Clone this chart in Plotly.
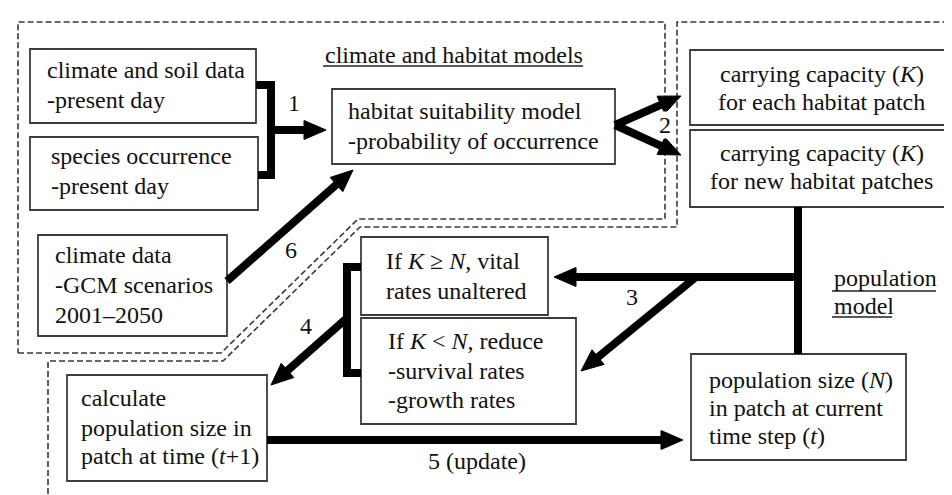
import numpy as np
import plotly.graph_objects as go

W, H = 952, 495
FONT = "Liberation Serif"
FS = 24

# ---------------- content ----------------
box_lines = [
    ["climate and soil data", "-present day"],
    ["species occurrence", "-present day"],
    ["habitat suitability model", "-probability of occurrence"],
    ["carrying capacity (<i>K</i>)", "for each habitat patch"],
    ["carrying capacity (<i>K</i>)", "for new habitat patches"],
    ["climate data", "-GCM scenarios", "2001–2050"],
    ["If <i>K</i> ≥ <i>N</i>, vital", "rates unaltered"],
    ["If <i>K</i> &lt; <i>N</i>, reduce", "-survival rates", "-growth rates"],
    ["calculate", "population size in", "patch at time (<i>t</i>+1)"],
    ["population size (<i>N</i>)", "in patch at current", "time step (<i>t</i>)"],
]
section_titles = ["climate and habitat models", "population", "model"]
arrow_labels = ["1", "2", "3", "4", "5 (update)", "6"]

# ---------------- layout geometry (pixel space) ----------------
box_x0 = [22, 22, 324, 682, 682, 30, 353, 353, 59, 683]
box_x1 = [248, 250, 607, 945, 945, 219, 540, 568, 259, 898]
box_y0 = [41, 129, 81, 42, 122, 227, 229, 310, 367, 346]
box_y1 = [115, 202, 156, 117, 199, 328, 307, 416, 473, 452]
text_x = [37, 41, 338, None, None, 45, 376, 378, 71, 699]
line_y = [[62, 92], [148, 178], [103, 133], [66, 94], [145, 173],
          [247, 277, 307], [253, 283], [333, 363, 392],
          [390, 420, 448], [372, 400, 428]]

title_pos = [(315, 47, 315, 575, 58), (824, 270, 824, 928, 283), (824, 298, 824, 884, 309)]
label_pos = [(286, 95), (657, 117), (624, 289), (298, 318), (469, 453), (283, 242)]

# dashed regions
region1 = [(10, 345), (213, 345), (350, 211), (657, 211), (657, 14), (10, 14), (10, 345)]
region2 = [(40, 495), (40, 353), (215, 353), (352, 219), (669, 219), (669, 14), (952, 14)]

# connectors (polylines, no heads)
connectors = [
    [(248, 77), (263, 77), (263, 167), (250, 167)],      # bracket 1
    [(790, 199), (790, 346)],                             # vertical K -> N
    [(353, 259), (339, 259), (339, 365), (353, 365)],     # bracket 4
]
# arrows: tail -> tip
arrows = [
    ((263, 122), (318, 122)),     # 1
    ((607, 117), (673, 88)),      # 2 upper
    ((607, 117), (673, 147)),     # 2 lower
    ((794, 269), (546, 269)),     # 3 to K>=N
    ((688, 269), (573, 363)),     # 3 to K<N
    ((339, 310), (263, 377)),     # 4
    ((259, 432), (675, 432)),     # 5
    ((219, 273), (345, 162)),     # 6
]

LW = 8
HEAD_L, HEAD_W = 22, 9.5

shapes = []


def path_of(pts, close=False):
    s = "M " + " L ".join(f"{x},{y}" for x, y in pts)
    return s + (" Z" if close else "")


# dashed boundaries
shapes.append(dict(type="path", path=path_of(region1), line=dict(color="#3a3a3a", width=1.6, dash="6px,3px")))
shapes.append(dict(type="path", path=path_of(region2), line=dict(color="#3a3a3a", width=1.6, dash="6px,3px")))
shapes.append(dict(type="line", x0=40, x1=952, y0=493, y1=493, line=dict(color="#c8c8c8", width=1, dash="6px,3px")))

# boxes
for i in range(len(box_lines)):
    shapes.append(dict(type="rect", x0=box_x0[i], x1=box_x1[i], y0=box_y0[i], y1=box_y1[i],
                       line=dict(color="#3c3c3c", width=1.8), fillcolor="white"))

# connectors
for pts in connectors:
    shapes.append(dict(type="path", path=path_of(pts), line=dict(color="black", width=LW)))

# arrows
for (tx, ty), (hx, hy) in arrows:
    d = np.array([hx - tx, hy - ty], dtype=float)
    u = d / np.linalg.norm(d)
    p = np.array([-u[1], u[0]])
    tip = np.array([hx, hy], dtype=float)
    base = tip - HEAD_L * u
    end = base + 3 * u
    shapes.append(dict(type="line", x0=tx, y0=ty, x1=end[0], y1=end[1], line=dict(color="black", width=LW)))
    a = base + HEAD_W * p
    b = base - HEAD_W * p
    shapes.append(dict(type="path", path=path_of([tuple(tip), tuple(a), tuple(b)], close=True),
                       fillcolor="black", line=dict(color="black", width=1)))

# underlines
for (tx, ty, ux0, ux1, uy) in title_pos:
    shapes.append(dict(type="line", x0=ux0, x1=ux1, y0=uy, y1=uy, line=dict(color="#222", width=1.6)))

annotations = []
for i, lines in enumerate(box_lines):
    for j, t in enumerate(lines):
        if text_x[i] is None:
            x, xa = (box_x0[i] + box_x1[i]) / 2, "center"
        else:
            x, xa = text_x[i], "left"
        annotations.append(dict(x=x, y=line_y[i][j], text=t, xanchor=xa, yanchor="middle",
                                showarrow=False, font=dict(family=FONT, size=FS, color="#111")))

for (tx, ty, *_), t in zip(title_pos, section_titles):
    annotations.append(dict(x=tx, y=ty, text=t, xanchor="left", yanchor="middle", showarrow=False,
                            font=dict(family=FONT, size=FS, color="#111")))

for (lx, ly), t in zip(label_pos, arrow_labels):
    annotations.append(dict(x=lx, y=ly, text=t, xanchor="center", yanchor="middle", showarrow=False,
                            bgcolor="white" if t == "2" else "rgba(0,0,0,0)", borderpad=0,
                            font=dict(family=FONT, size=FS, color="#111")))

fig = go.Figure()
fig.update_layout(
    width=W, height=H, margin=dict(l=0, r=0, t=0, b=0),
    paper_bgcolor="white", plot_bgcolor="white",
    font=dict(family=FONT),
    xaxis=dict(range=[0, W], visible=False, fixedrange=True),
    yaxis=dict(range=[H, 0], visible=False, fixedrange=True),
    shapes=shapes, annotations=annotations, showlegend=False,
)
fig.write_html("out.html")
